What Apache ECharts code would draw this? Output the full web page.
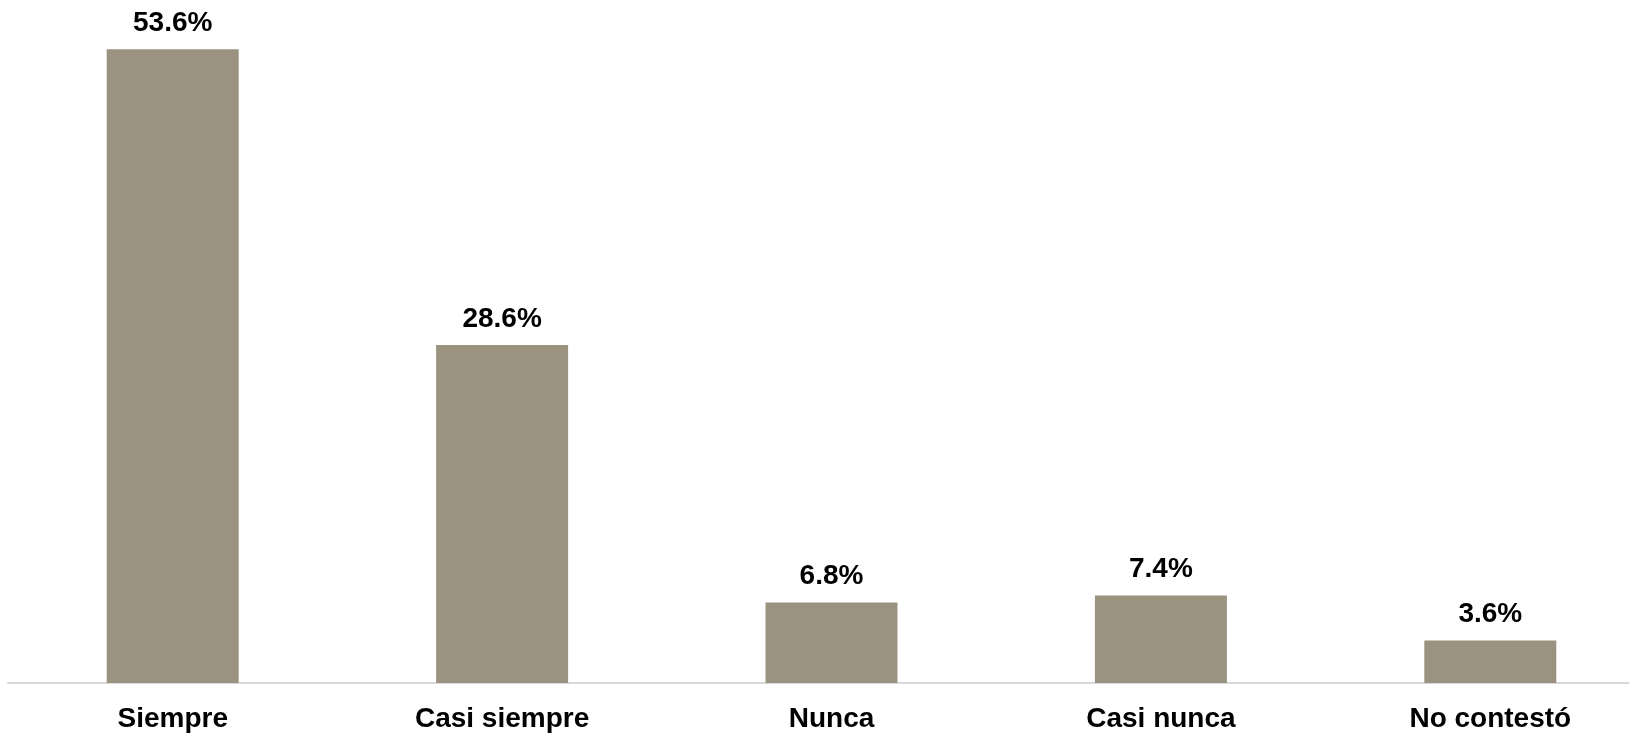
<!DOCTYPE html>
<html>
<head>
<meta charset="utf-8">
<script src="https://cdn.jsdelivr.net/npm/echarts@6/dist/echarts.min.js"></script>
<style>
  html, body { margin: 0; padding: 0; background: #fff; }
  #chart { width: 1629px; height: 737px; }
</style>
</head>
<body>
<div id="chart"></div>
<script>
const categories = ['Siempre', 'Casi siempre', 'Nunca', 'Casi nunca', 'No contestó'];
const percentages = [53.6, 28.6, 6.8, 7.4, 3.6];

const chart = echarts.init(document.getElementById('chart'));

chart.setOption({
  animation: false,
  grid: {
    left: 8,
    top: 21,
    width: 1647,
    bottom: 54,
    outerBoundsMode: 'none'
  },
  xAxis: {
    type: 'category',
    data: categories,
    axisLine: { lineStyle: { color: '#d9d9d9', width: 2 } },
    axisTick: { show: false },
    axisLabel: {
      color: '#000',
      fontFamily: 'Liberation Sans, Arial, sans-serif',
      fontWeight: 'bold',
      fontSize: 28,
      margin: 22
    }
  },
  yAxis: {
    type: 'value',
    min: 0,
    max: 56,
    show: false,
    splitLine: { show: false }
  },
  series: [{
    type: 'bar',
    data: percentages,
    barWidth: 132,
    itemStyle: { color: '#9b9380' },
    label: {
      show: true,
      position: 'top',
      distance: 12,
      color: '#000',
      fontFamily: 'Liberation Sans, Arial, sans-serif',
      fontWeight: 'bold',
      fontSize: 28,
      formatter: p => p.value.toFixed(1) + '%'
    }
  }]
});
</script>
</body>
</html>
